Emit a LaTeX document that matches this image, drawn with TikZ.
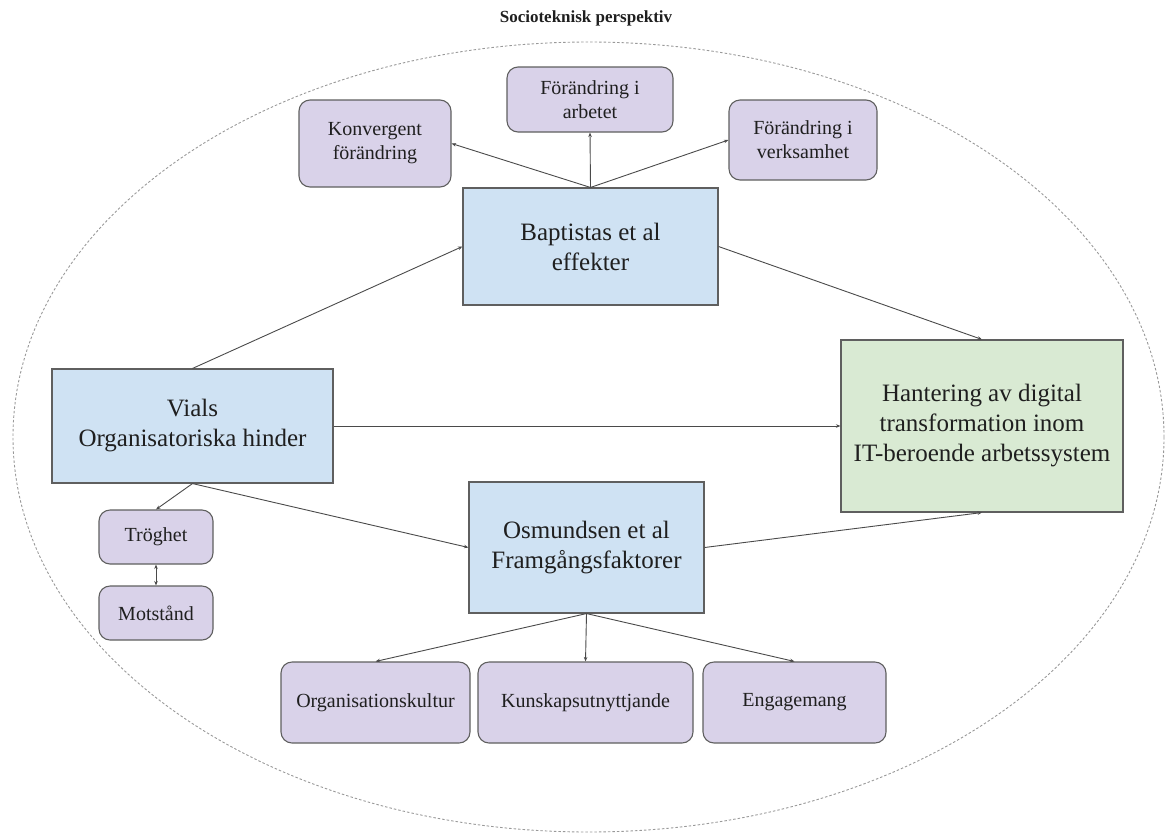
\documentclass[tikz,border=0pt]{standalone}
\usepackage{fontspec}
\setmainfont{Liberation Serif}
\usetikzlibrary{arrows.meta}
\definecolor{bluefill}{HTML}{CFE2F3}
\definecolor{purplefill}{HTML}{D9D2E9}
\definecolor{greenfill}{HTML}{D9EAD3}
\definecolor{edgegray}{HTML}{5F5F5F}
\definecolor{linegray}{HTML}{4A4A4A}
\definecolor{txt}{HTML}{1F1F1F}
\tikzset{
  bigbox/.style={draw=edgegray, line width=1.1pt, align=center, text=txt,
    font=\fontsize{25}{30}\selectfont, inner sep=0pt},
  bluebox/.style={bigbox, fill=bluefill},
  greenbox/.style={bigbox, fill=greenfill},
  smallbox/.style={draw=edgegray, line width=1.1pt, fill=purplefill, rounded corners=11pt,
    align=center, text=txt, font=\fontsize{20}{24}\selectfont, inner sep=0pt},
  conn/.style={draw=linegray, line width=0.9pt, -{Stealth[length=4.5pt,width=3.5pt]}},
  biconn/.style={draw=linegray, line width=0.9pt, {Stealth[length=4.5pt,width=3.5pt]}-{Stealth[length=4.5pt,width=3.5pt]}},
  outline/.style={draw=gray!80, line width=0.9pt, dash pattern=on 2.5pt off 2pt},
  titletext/.style={font=\fontsize{17}{20}\selectfont\bfseries, text=txt}
}
\begin{document}
\begin{tikzpicture}[x=1pt, y=-1pt]
\useasboundingbox (0,0) rectangle (1166,836);
% outer ellipse
\draw[outline] (588.5,437) ellipse [x radius=575.5, y radius=395];
\node[titletext] (title) at (586,18) {Socioteknisk perspektiv};

% main boxes
\node[bluebox, minimum width=255pt, minimum height=117pt] (bapt) at (590.5,246.5) {Baptistas et al\\effekter};
\node[bluebox, minimum width=281pt, minimum height=114pt] (vials) at (192.5,426) {Vials\\Organisatoriska hinder};
\node[bluebox, minimum width=235pt, minimum height=131pt] (osm) at (586.5,547.5) {Osmundsen et al\\Framgångsfaktorer};
\node[greenbox, minimum width=282pt, minimum height=172pt] (hant) at (982,426) {Hantering av digital\\transformation inom\\IT-beroende arbetssystem};

% small boxes
\node[smallbox, minimum width=152pt, minimum height=87pt] (konv) at (375,143.5) {Konvergent\\förändring};
\node[smallbox, minimum width=166pt, minimum height=65pt] (arb) at (590,99.5) {Förändring i\\arbetet};
\node[smallbox, minimum width=148pt, minimum height=80pt] (verk) at (803,140) {Förändring i\\verksamhet};
\node[smallbox, minimum width=114pt, minimum height=54pt] (trog) at (156,537) {Tröghet};
\node[smallbox, minimum width=114pt, minimum height=54pt] (mots) at (156,613) {Motstånd};
\node[smallbox, minimum width=189pt, minimum height=81pt] (org) at (375.5,702.5) {Organisationskultur};
\node[smallbox, minimum width=215pt, minimum height=81pt] (kuns) at (585.5,702.5) {Kunskapsutnyttjande};
\node[smallbox, minimum width=183pt, minimum height=81pt] (eng) at (794.5,702.5) {Engagemang};

% connectors
\draw[conn] (bapt.north) -- (konv.east);
\draw[conn] (bapt.north) -- (arb.south);
\draw[conn] (bapt.north) -- (verk.west);
\draw[conn] (vials.north) -- (bapt.west);
\draw[conn] (bapt.east) -- (hant.north);
\draw[conn] (vials.east) -- (hant.west);
\draw[conn] (vials.south) -- (trog.north);
\draw[conn] (vials.south) -- (osm.west);
\draw[conn] (osm.east) -- (hant.south);
\draw[biconn] (trog.south) -- (mots.north);
\draw[conn] (osm.south) -- (org.north);
\draw[conn] (osm.south) -- (kuns.north);
\draw[conn] (osm.south) -- (eng.north);
\end{tikzpicture}
\end{document}
